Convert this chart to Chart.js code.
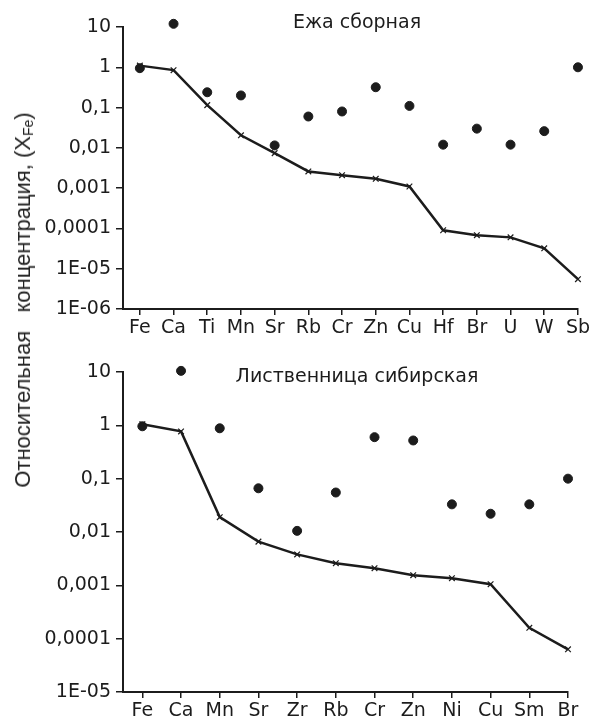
<!DOCTYPE html>
<html>
<head>
<meta charset="utf-8">
<script src="https://cdn.jsdelivr.net/npm/chart.js@4.4.1/dist/chart.umd.min.js"></script>
<style>
  html, body { margin: 0; padding: 0; background: #fff; }
  #page { position: relative; width: 592px; height: 720px; overflow: hidden; }
  canvas { position: absolute; left: 0; }
  #yTitle {
    position: absolute; left: 23px; top: 300px;
    transform: translate(-50%, -50%) rotate(-90deg);
    white-space: pre; font-family: "Liberation Sans", Arial, sans-serif;
    font-size: 22px; color: #222;
  }
  #yTitle sub { font-size: 14px; vertical-align: -3px; }
</style>
</head>
<body>
<div id="page">
  <canvas id="chartTop" width="592" height="345" style="top:0"></canvas>
  <canvas id="chartBottom" width="592" height="375" style="top:345px"></canvas>
  <div id="yTitle">Относительная   концентрация, (X<sub>Fe</sub>)</div>
</div>
<script>
// Ежа сборная
const topElements = ['Fe', 'Ca', 'Ti', 'Mn', 'Sr', 'Rb', 'Cr', 'Zn', 'Cu', 'Hf', 'Br', 'U', 'W', 'Sb'];
const topLine = [1.1, 0.85, 0.115, 0.0205, 0.0074, 0.0026, 0.0021, 0.0017, 0.0011, 0.00009, 0.000068, 0.00006, 0.000032, 0.0000055];
const topDots = [0.95, 12, 0.24, 0.2, 0.0115, 0.06, 0.08, 0.32, 0.11, 0.012, 0.03, 0.012, 0.026, 1.0];
const topTicks = [10, 1, 0.1, 0.01, 0.001, 0.0001, 1e-5, 1e-6];
const topTickLabels = ['10', '1', '0,1', '0,01', '0,001', '0,0001', '1E-05', '1E-06'];

// Лиственница сибирская
const bottomElements = ['Fe', 'Ca', 'Mn', 'Sr', 'Zr', 'Rb', 'Cr', 'Zn', 'Ni', 'Cu', 'Sm', 'Br'];
const bottomLine = [1.05, 0.77, 0.019, 0.0066, 0.0038, 0.0026, 0.0021, 0.00155, 0.00136, 0.00105, 0.00016, 0.000063];
const bottomDots = [0.96, 10.5, 0.88, 0.066, 0.0105, 0.055, 0.6, 0.52, 0.033, 0.022, 0.033, 0.1];
const bottomTicks = [10, 1, 0.1, 0.01, 0.001, 0.0001, 1e-5];
const bottomTickLabels = ['10', '1', '0,1', '0,01', '0,001', '0,0001', '1E-05'];

const ink = '#1c1c1c';
const tickFont = { family: 'DejaVu Sans', size: 19 };

const panelTitle = {
  id: 'panelTitle',
  afterDraw(chart, args, opts) {
    const { ctx, chartArea } = chart;
    ctx.save();
    ctx.font = '19px "DejaVu Sans"';
    ctx.fillStyle = ink;
    ctx.textAlign = 'center';
    ctx.textBaseline = 'middle';
    ctx.fillText(opts.text, chartArea.left + 234, chartArea.top + opts.dy);
    ctx.restore();
  }
};

function initPanel(id, elements, line, dots, ticks, tickLabels, title, dy, pad, xHeight) {
  return new Chart(document.getElementById(id), {
    data: {
      datasets: [
        {
          type: 'line',
          data: line.map((v, i) => ({ x: i, y: v })),
          borderColor: ink,
          borderWidth: 2.5,
          pointStyle: 'crossRot',
          pointRadius: 4,
          pointBorderWidth: 1.2,
          pointBorderColor: ink,
          tension: 0,
          clip: false
        },
        {
          type: 'scatter',
          data: dots.map((v, i) => ({ x: i, y: v })),
          backgroundColor: ink,
          borderColor: ink,
          pointRadius: 4.5,
          clip: false
        }
      ]
    },
    options: {
      responsive: false,
      animation: false,
      events: [],
      layout: { padding: { top: 27, right: pad, left: 0, bottom: 0 } },
      plugins: {
        legend: { display: false },
        tooltip: { enabled: false },
        panelTitle: { text: title, dy }
      },
      scales: {
        x: {
          type: 'linear',
          min: -0.5,
          max: elements.length - 1,
          afterBuildTicks: scale => {
            scale.ticks = elements.map((e, i) => ({ value: i }));
          },
          afterFit: scale => { scale.height = xHeight; },
          border: { display: true, color: ink, width: 2 },
          grid: { drawOnChartArea: false, drawTicks: true, tickLength: 6, color: ink, lineWidth: 1.5 },
          ticks: {
            autoSkip: false,
            maxRotation: 0,
            padding: 2,
            color: ink,
            font: tickFont,
            callback: v => elements[v]
          }
        },
        y: {
          type: 'logarithmic',
          min: ticks[ticks.length - 1],
          max: ticks[0],
          afterBuildTicks: scale => {
            scale.ticks = ticks.map(v => ({ value: v }));
          },
          afterFit: scale => { scale.width = 123; },
          border: { display: true, color: ink, width: 2 },
          grid: { drawOnChartArea: false, drawTicks: true, tickLength: 7, color: ink, lineWidth: 1.5 },
          ticks: {
            padding: 5,
            color: ink,
            font: tickFont,
            callback: v => tickLabels[ticks.indexOf(v)]
          }
        }
      }
    },
    plugins: [panelTitle]
  });
}

initPanel('chartTop', topElements, topLine, topDots, topTicks, topTickLabels, 'Ежа сборная', -4, 14, 36);
initPanel('chartBottom', bottomElements, bottomLine, bottomDots, bottomTicks, bottomTickLabels, 'Лиственница сибирская', 5, 24, 28);
</script>
</body>
</html>
